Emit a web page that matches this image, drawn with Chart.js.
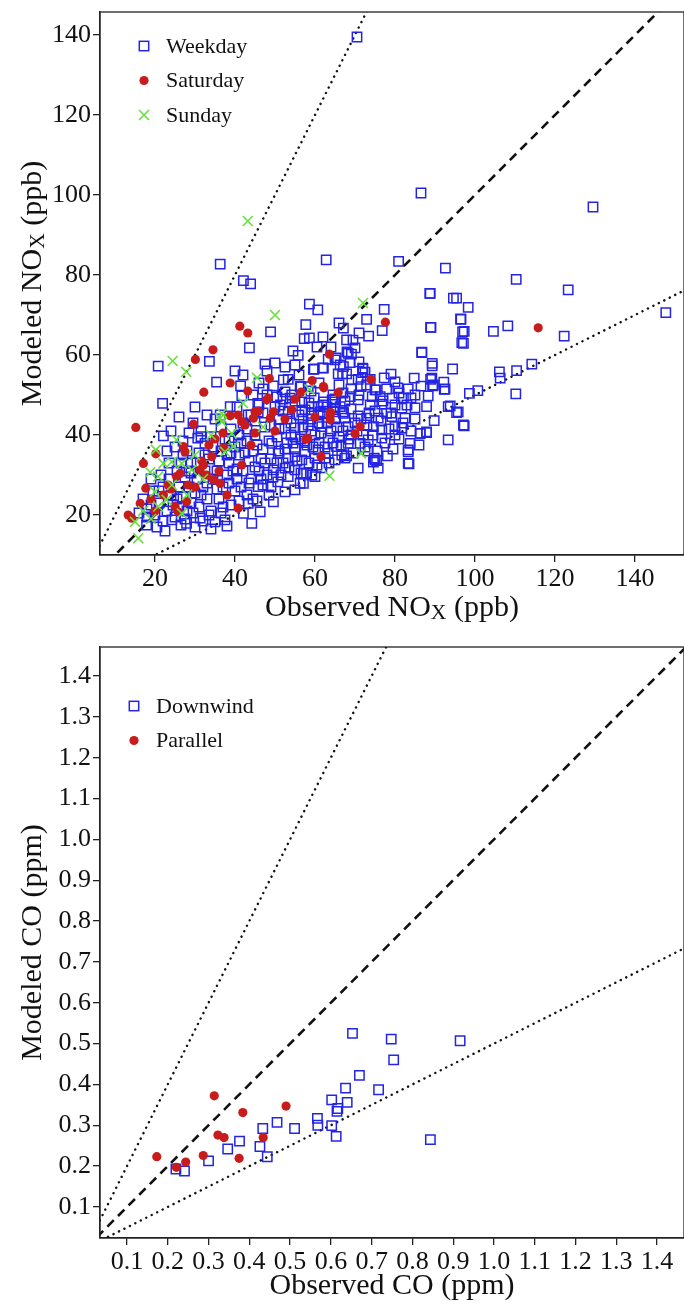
<!DOCTYPE html>
<html>
<head>
<meta charset="utf-8">
<script src="https://cdn.jsdelivr.net/npm/chart.js@4.4.1/dist/chart.umd.min.js"></script>
<style>
  html, body { margin: 0; padding: 0; background: #fff; overflow: hidden; }
  #wrap { position: relative; width: 684px; height: 1309px; overflow: hidden; }
  .box { position: absolute; left: 0; width: 684px; }
  #box1 { top: 0; height: 640px; }
  #box2 { top: 640px; height: 669px; }
</style>
</head>
<body>
<div id="wrap">
  <div class="box" id="box1"><canvas id="noxChart"></canvas></div>
  <div class="box" id="box2"><canvas id="coChart"></canvas></div>
</div>
<script>
// tick labels
const noxTicks = [20, 40, 60, 80, 100, 120, 140];
const coTicks = [0.1, 0.2, 0.3, 0.4, 0.5, 0.6, 0.7, 0.8, 0.9, 1.0, 1.1, 1.2, 1.3, 1.4];

// reference lines: modeled = k * observed
const refSlopes = [1, 2, 0.5];
const refRangeNOx = [0, 200];
const refRangeCO = [0, 2];

// NOx: [observed, modeled] ppb
const weekdayNOx = [
  [70.5,139.5],[86.5,100.5],[129.5,97],[36.3,82.7],[42.1,78.6],[43.9,77.8],[62.8,83.8],[80.9,83.4],[92.6,81.7],
  [110.3,78.9],[123.3,76.3],[147.7,70.6],[88.7,75.4],[94.6,74.2],[95.4,74.2],[98.3,71.9],[96.5,68.9],[89,66.9],
  [97.3,65.9],[97.1,62.9],[104.6,65.9],[108.2,67.3],[122.3,64.7],[114.2,57.7],[110.4,56.1],[106.1,55.8],[106.3,54.2],
  [110.2,50.3],[100.7,51.1],[98.6,50.4],[94.4,56.5],[93.8,47.3],[95.4,45.6],[97.3,42.3],[93.3,38.8],[89.8,43.6],
  [87.9,40.6],[86.3,40.4],[83.3,36.3],[83.3,32.9],[78.1,34.8],[70.8,31.7],[75.8,31.7],[75,33.8],[92.3,51.4],
  [89.6,52.5],[89.2,54.2],[86.7,60.6],[89.3,57.9],[89.3,57.3],[84.8,54.2],[96.4,69],[96.9,65.8],[96.7,63.1],
  [20.8,57.2],[21.9,47.9],[22.1,39.8],[33.6,58.4],[40,56],[47.5,57.7],[35.4,53.2],[41.4,52.3],[41.7,49.8],
  [48.9,65.8],[43.6,61.8],[38.8,47.1],[45.7,47.9],[49.6,52.3],[52.1,53.8],[52.5,50.8],[56.3,52.1],[58.3,52.1],
  [59.6,56.4],[61.9,56.8],[63.3,58.9],[65,58.8],[67.1,66.7],[67.9,63.8],[68.3,60.4],[67.1,57.1],
  [53.8,49.2],[56.7,48.3],[59.2,47.1],[62.1,48.3],[64.6,48.3],[66.3,47.1],[51.3,47.5],[53.3,45.8],[56.7,45.8],
  [59.2,45.4],[61.3,45.8],[64.6,45.8],[67.1,45.4],[68.8,49.6],[36.3,45],[45.8,45.8],[43.3,45],
  [58.6,72.7],[60.7,71.3],[77.3,71.4],[72.9,68.9],[57.7,67.6],[76.8,66.1],[57.3,64.1],[58.6,64.3],[71,65.5],
  [73.4,64.7],[69.5,63.7],[70,61.8],[55.8,59.9],[68,60.8],[69.1,60.2],[65.3,59.3],[71,58.3],[68.8,58.1],
  [59.8,56.5],[62.1,56.7],[72,56.5],[72.5,55.7],[65.8,55.3],[67.9,55.3],[79,55.2],[77.3,54.3],[88.9,53.9],
  [92.2,53.2],[69.2,53.8],[80,53.3],[53.3,53.9],[66.3,57.5],[66.9,55.3],[70.8,53.9],[73.8,53.9],[72.9,52.5],
  [75.3,51.3],[76.3,49.6],[71.9,56.7],[71.9,55.6],[86.7,60.7],[88.9,66.9],[88.8,75.4],
  [56.5,52.1],[69,51.5],[71.5,52.1],[75,51.3],[77.9,51.5],[80.7,51.8],[83.3,51.5],[86.5,52.2],[89.4,52.3],
  [92.5,51.5],[54.2,50],[59.8,49.3],[64.3,48.8],[67.5,48.5],[70.8,48.8],[74.3,49.6],[79.3,49.2],[82.1,49.3],
  [84,49.3],[88.3,49.8],[57.5,46.3],[60.8,47.1],[65,46.7],[67.1,45.8],[73.8,47.5],[76.7,47.7],[80,47.5],
  [81.7,46.7],[85,46.8],[87.9,47.1],[93.3,47.1],[95.8,45.8],[97.1,42.5],[60.8,45],[67.5,44.2],[70.8,44.8],
  [72.9,44.2],[75.8,44.2],[79.2,44.6],[82.5,44.2],[77.9,45.4],[52.5,41.7],[55,41.8],[58.3,42.5],[61.7,42.1],
  [68.3,42.1],[74.6,42.1],[76.7,41.3],[80,42.1],[81.7,41.7],[86.3,40.4],[87.9,40.8],[63.3,39.2],[68.3,37.9],
  [71.3,37.9],[73.3,38.8],[76.7,39.2],[80,40],[83.8,37.9],[65.4,37.1],[60.8,36.3],[63.3,35.4],[66.7,35],
  [67.9,34.8],[73.3,36],[83.3,35.8],[57.5,35.8],[53.3,34.2],[55,34.6],[56.7,33.8],[60,34.2],[62.5,34.2],
  [65,33.8],[67.5,34.2],[74.6,33.2],[83.5,32.8],[52.5,31.7],[55,31.3],[57.1,30.4],[59.2,30],[61.7,31.8],
  [53.3,29.6],[57.1,27.9],[55,26.3],[52.5,25.8],[57.9,30.4],[60,29.6],[56.3,27.9],[74.8,34.2],[75.4,33.6],
  [51,44],[52,46],[53,38],[54,43],[55,36.5],[56,45],[56.5,39],[58,37.5],[59,44],[60,40],[61,38],[62,45.5],
  [63,43],[64,41],[65,44],[66,39.5],[67,41],[69,40],[70,43],[72,40],[51,36],[50.5,39.5],[52,33],[54,40],
  [57,42],[58.5,48],[62,47.5],[64.5,50],[66,52.5],[61,53],[59,51],[55,48.5],[52,49],[50,47],[48,50],
  [42.1,20.4],[43.3,22.9],[45.8,27.1],[49.6,23.3],[46.3,20.8],[50.7,28.3],[49.6,31.3],[50.8,35.4],[49.2,37.9],
  [31.5,41],[31.5,39.6],[30.7,39.2],[34,39.6],[32.5,37.9],[44.2,17.9],[24.2,18.8],[27.9,17.9],[31.3,19.2],
  [35,18.3],[37.5,18.8],[22.5,16],[17.9,17.5],
  [36,24],[37,27],[38,30],[38.5,33],[39,22.5],[40,26],[40.5,29],[41,35],[41.5,38],[42,31],[43,25],[43.5,33.5],
  [44,29],[44.5,36],[45,40],[45.5,23.5],[46,31],[46.5,34],[47,27.5],[47.5,42],[48,30],[48.5,25],[49,34],
  [39,41.5],[40,37],[42,43],[44,45],[46,47.5],[36.5,36],[35.5,31],[37.5,39],
  [25,19.5],[26,22],[27,24.5],[28,21],[28.5,27],[29,23],[30,25.5],[30.5,29],[31,22],[32,27],[32.5,31],
  [33,24],[33.5,34],[34,21],[34.5,29],[27.5,29.5],[29,33],[26,27],[31,35.5],[28,36],[25.5,31],[24,25],
  [23,21],[22,27],[21,23],[20,20],[19,22.5],[18,19.5],[21.5,30],[23.5,33],[25,37],[19.5,26],[17,24],
  [16,20.5],[22,18.5],[26.5,17.5],[30,17],[32,18.5],[34,16.5],[36.5,20.5],[38,17.2],
  [27,38.5],[28.5,40.5],[29.5,43],[24,41],[26,44.5],[30,47],[33,45],[35,44],[27,35],[23,36],
  [38.5,28],[41,23.5],[43,38.5],[45,32],[47,36.5],[49,27],[36,33.5],[39,35.5],[33,28],[29,30.5],
  [40.5,31.5],[41.5,27],[42.5,35.5],[43.5,28],[44.5,24],[45.5,37.5],[46.5,29],[47.5,33],[48.5,38.5],
  [49.5,29.5],[50.5,33],[51.5,30],[52.5,36.5],[53.5,32],[54.5,38],[55.5,33.5],[56.5,30.5],[57.5,38.5],
  [58.5,33],[59.5,37],[60.5,32.5],[61.5,40.5],[62.5,37],[63.5,33],[64.5,38],[65.5,42],[66.5,37.5],
  [68.5,39],[69.5,35.5],[70.5,41],[71.5,44],[72.5,37],[73.5,45.5],[74.5,40],[75.5,36],[76.5,43.5],
  [77.5,38],[78.5,41.5],[79.5,36.5],[81,39],[82,43],[84,41],[85,44],[86,37.5],[41,40],[43,41.5],
  [45,43.5],[47,45.5],[49,42.5],[51,41.5],[53,44],[55,39.5],[57,44],[59,41],[61,43],[63,47],[65,49],
  [67,50.5],[69,46.5],[71,50],[73,42.5],[75,46],[77,48.5],[79,45.5],[81,50.5],[83,47.5],[85,50],
  [38,35],[39.5,31],[37,22],[35.5,26.5],[33.5,20],[31.5,25],[29.5,20.5],[27.5,19],[25.5,24],[23.5,29],
  [21,26],[19,29],[18,21.5],[20.5,17],[24.5,22.5],[26.5,33],[28.5,31],[30.5,33],[32.5,35],[34.5,37],
  [36.5,42],[38.5,38.5],[40.5,47],[42,55],[44.5,50],[46,53],[48,56],[50,58],[52.5,57],[54.5,61],[56,55],
  [60.5,62],[62,64.5],[64,62],[66,68],[55,57.5],[50.5,49.5],[47,51.5]
];

const saturdayNOx = [
  [15.2,41.9],[41.2,67.2],[43.2,65.5],[34.5,61.3],[30.1,58.9],[48.6,54.1],[38.8,53],[77.6,68.2],[63.6,60.2],
  [59.3,53.6],[74,53.9],[62.1,52.1],[65.8,50.6],[115.8,66.8],[56.5,50.7],[62.2,51.8],[54.2,46.3],[63.8,45],
  [71.3,42.1],[70,40.3],[61.5,34.6],[58.2,39.2],[63.9,45.6],[63.8,43.8],[57.7,39],[32.2,50.7],[43.2,51],
  [29.6,42.7],[38.8,44.8],[40.8,45],[41.7,43.3],[42.5,42.5],[45,45.8],[45.8,46],[48.3,49.2],[48.8,44.2],
  [37.1,36.8],[34.2,34.6],[32.1,32.5],[31.7,33.5],[31.3,31.3],[32.9,30],[34.6,28.8],[36.3,27.9],[27.1,37.1],
  [27.5,35.8],[26.3,30.4],[25.4,29.6],[25,22.1],[25.8,20.8],[27.9,23.3],[28.3,27.5],[20.2,35.3],[17.1,32.9],
  [17.7,26.7],[16.3,22.9],[13.3,20],[14.2,19.2],[40.8,21.7],[41.7,32.5],[47.9,48.8],[49.6,45.8],[44.6,44.2],
  [22.1,25],[23.3,27.5],[20,21],[19,24],[24,26.5],[30,27],[36,31],[38,25],[45,40.5],[44,37.5],[50,41],
  [52.5,44],[55,49],[60,44.5],[33.5,37.5],[35,39],[37,40.5]
];

const sundayNOx = [
  [43.2,93.5],[50,70],[24.4,58.5],[27.8,55.8],[45.5,54.3],[72,73],[58.6,51.4],[71.5,35.4],[63.6,29.8],
  [20.2,36.3],[18.8,30.7],[15,18.3],[15.8,14.2],[36.7,45.4],[36.3,44.2],[36.7,43.3],[37.5,35.8],[39.6,37.1],
  [39.2,40.4],[25.4,38.8],[26.7,32.9],[29.2,31.3],[24.2,33.3],[22.1,32.9],[20.8,29.6],[20,25.8],[22.9,23.8],
  [26.7,20.4],[20.8,22.1],[24.2,27.5],[30,35],[32,29],[17,21],[19,19],[28,25],[34,40],[42,48],[47,42]
];

// CO: [observed, modeled] ppm
const downwindCO = [
  [0.653,0.525],[0.748,0.511],[0.917,0.507],[0.754,0.46],[0.67,0.422],[0.636,0.391],[0.717,0.387],
  [0.602,0.362],[0.64,0.356],[0.617,0.341],[0.615,0.334],[0.567,0.317],[0.568,0.3],[0.468,0.307],
  [0.433,0.292],[0.511,0.292],[0.602,0.299],[0.613,0.273],[0.844,0.265],[0.376,0.261],[0.426,0.248],
  [0.347,0.242],[0.444,0.223],[0.3,0.213],[0.22,0.193],[0.241,0.188]
];
const parallelCO = [
  [0.314,0.372],[0.384,0.331],[0.49,0.347],[0.323,0.276],[0.338,0.27],[0.434,0.27],[0.375,0.219],
  [0.287,0.226],[0.173,0.223],[0.244,0.21],[0.221,0.197]
];

const BLUE = '#2424e6';
const RED = '#c81c1c';
const GREEN = '#66e03a';
const SERIF = '"Liberation Serif", "Times New Roman", serif';

function pts(arr) {
  return arr.map(p => ({ x: p[0], y: p[1] }));
}

function refLines(range) {
  return refSlopes.map(k => {
    const dotted = k !== 1;
    return {
      type: 'line',
      data: range.map(x => ({ x: x, y: x * k })),
      borderColor: '#111',
      borderWidth: dotted ? 2.4 : 2.6,
      borderDash: dotted ? [0.1, 6] : [9, 6],
      borderCapStyle: dotted ? 'round' : 'butt',
      pointRadius: 0,
      fill: false,
      order: 10
    };
  });
}

function squareSet(label, arr) {
  return { label, data: pts(arr), pointStyle: 'rect', pointRadius: 6.6, borderColor: BLUE,
    backgroundColor: 'rgba(0,0,0,0)', borderWidth: 1.5, order: 3 };
}
function circleSet(label, arr) {
  return { label, data: pts(arr), pointStyle: 'circle', pointRadius: 4.6, borderColor: RED,
    backgroundColor: RED, borderWidth: 0, order: 2 };
}
function crossSet(label, arr) {
  return { label, data: pts(arr), pointStyle: 'crossRot', pointRadius: 7, borderColor: GREEN,
    backgroundColor: GREEN, borderWidth: 1.6, order: 1 };
}

function drawParts(ctx, parts, cx, cy, size) {
  const sub = size * 0.72;
  let total = 0;
  parts.forEach(p => {
    ctx.font = (p[1] ? sub : size) + 'px ' + SERIF;
    total += ctx.measureText(p[0]).width;
  });
  let x = cx - total / 2;
  ctx.textBaseline = 'alphabetic';
  ctx.textAlign = 'left';
  parts.forEach(p => {
    ctx.font = (p[1] ? sub : size) + 'px ' + SERIF;
    ctx.fillText(p[0], x, cy + size * 0.35 + (p[1] ? size * 0.12 : 0));
    x += ctx.measureText(p[0]).width;
  });
}

function drawMarker(ctx, style, x, y) {
  ctx.save();
  if (style === 'rect') {
    ctx.strokeStyle = BLUE; ctx.lineWidth = 1.5;
    ctx.strokeRect(x - 4.7, y - 4.7, 9.4, 9.4);
  } else if (style === 'circle') {
    ctx.fillStyle = RED;
    ctx.beginPath(); ctx.arc(x, y, 4.6, 0, Math.PI * 2); ctx.fill();
  } else {
    ctx.strokeStyle = GREEN; ctx.lineWidth = 1.6;
    ctx.beginPath();
    ctx.moveTo(x - 5, y - 5); ctx.lineTo(x + 5, y + 5);
    ctx.moveTo(x + 5, y - 5); ctx.lineTo(x - 5, y + 5);
    ctx.stroke();
  }
  ctx.restore();
}

const decorPlugin = {
  id: 'decor',
  afterDraw(chart, args, opts) {
    const { ctx, chartArea: a } = chart;
    ctx.save();
    ctx.strokeStyle = '#222';
    ctx.lineWidth = 1.3;
    ctx.strokeRect(a.left, a.top, a.right - a.left, a.bottom - a.top);
    ctx.fillStyle = '#111';
    drawParts(ctx, opts.xTitle, (a.left + a.right) / 2, opts.xTitleY, 30);
    ctx.save();
    ctx.translate(opts.yTitleX, (a.top + a.bottom) / 2);
    ctx.rotate(-Math.PI / 2);
    drawParts(ctx, opts.yTitle, 0, 0, 30);
    ctx.restore();
    opts.legend.forEach((item, i) => {
      const y = opts.legendY + i * 34.5;
      drawMarker(ctx, item[1], opts.legendX, y);
      ctx.font = '22px ' + SERIF;
      ctx.fillStyle = '#111';
      ctx.textBaseline = 'middle';
      ctx.textAlign = 'left';
      ctx.fillText(item[0], opts.legendX + 22, y + 1);
    });
    ctx.restore();
  }
};

function axis(min, max, ticks, fitKey, fitVal, fmt) {
  return {
    type: 'linear',
    min: min,
    max: max,
    afterBuildTicks: s => { s.ticks = ticks.map(v => ({ value: v })); },
    afterFit: s => {
      s[fitKey] = fitVal;
      s.paddingLeft = 0; s.paddingRight = 0; s.paddingTop = 0; s.paddingBottom = 0;
    },
    grid: { display: true, drawOnChartArea: false, drawTicks: true, tickLength: 7, color: '#222', lineWidth: 1.3 },
    border: { display: true, color: '#222', width: 1.3 },
    ticks: {
      font: { family: SERIF, size: 26 },
      color: '#111',
      padding: 2,
      autoSkip: false,
      maxRotation: 0,
      callback: v => fmt(v)
    }
  };
}

function baseOptions(extra) {
  return {
    responsive: true,
    maintainAspectRatio: false,
    animation: false,
    events: [],
    layout: { autoPadding: false, padding: { top: extra.padTop, right: 0, left: 0, bottom: 0 } },
    plugins: {
      legend: { display: false },
      tooltip: { enabled: false },
      decor: extra.decor
    },
    scales: extra.scales
  };
}

new Chart(document.getElementById('noxChart'), {
  type: 'scatter',
  data: {
    datasets: [
      ...refLines(refRangeNOx),
      squareSet('Weekday', weekdayNOx),
      circleSet('Saturday', saturdayNOx),
      crossSet('Sunday', sundayNOx)
    ]
  },
  options: baseOptions({
    padTop: 12,
    scales: {
      x: axis(6.25, 152.25, noxTicks, 'height', 85, v => String(v)),
      y: axis(10, 145.75, noxTicks, 'width', 100, v => String(v))
    },
    decor: {
      xTitle: [['Observed NO', false], ['X', true], [' (ppb)', false]],
      yTitle: [['Modeled NO', false], ['X', true], [' (ppb)', false]],
      xTitleY: 605,
      yTitleX: 30,
      legend: [['Weekday', 'rect'], ['Saturday', 'circle'], ['Sunday', 'cross']],
      legendX: 144,
      legendY: 46
    }
  }),
  plugins: [decorPlugin]
});

new Chart(document.getElementById('coChart'), {
  type: 'scatter',
  data: {
    datasets: [
      ...refLines(refRangeCO),
      squareSet('Downwind', downwindCO),
      circleSet('Parallel', parallelCO)
    ]
  },
  options: baseOptions({
    padTop: 7,
    scales: {
      x: axis(0.0338, 1.466, coTicks, 'height', 71, v => v.toFixed(1)),
      y: axis(0.024, 1.471, coTicks, 'width', 100, v => v.toFixed(1))
    },
    decor: {
      xTitle: [['Observed CO (ppm)', false]],
      yTitle: [['Modeled CO (ppm)', false]],
      xTitleY: 643,
      yTitleX: 30,
      legend: [['Downwind', 'rect'], ['Parallel', 'circle']],
      legendX: 134,
      legendY: 66
    }
  }),
  plugins: [decorPlugin]
});
</script>
</body>
</html>
